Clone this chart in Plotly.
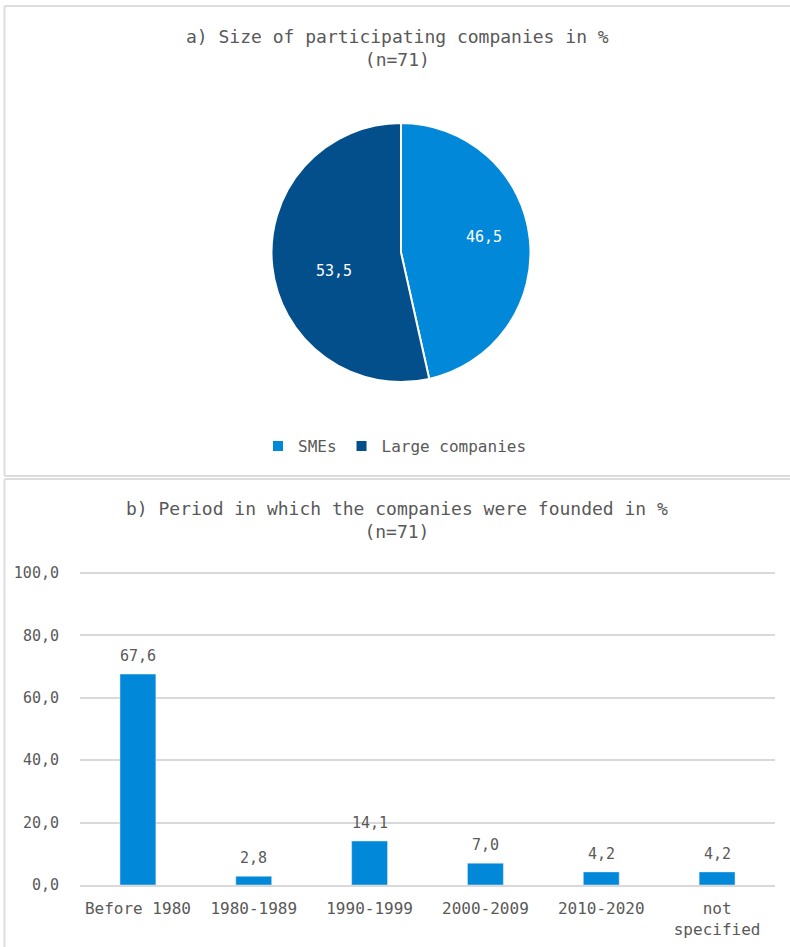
import math
import plotly.graph_objects as go

W, H = 790, 947

# ---- data ----
size_labels = ["SMEs", "Large companies"]
size_values = [46.5, 53.5]
size_colors = ["#0288D9", "#034F8B"]

period_categories = ["Before 1980", "1980-1989", "1990-1999", "2000-2009", "2010-2020", "not<br>specified"]
period_values = [67.6, 2.8, 14.1, 7.0, 4.2, 4.2]
bar_color = "#0288D9"

title_a = "a) Size of participating companies in %<br>(n=71)"
title_b = "b) Period in which the companies were founded in %<br>(n=71)"

FONT = "DejaVu Sans Mono, monospace"
GREY = "#595959"
BORDER = "#DDDDDD"

def px(x):
    return x / W

def py(y):
    return 1 - y / H

def fmt(v):
    return f"{v:.1f}".replace(".", ",")

# pie geometry (pixels)
CX, CY, R = 401, 252.5, 129.5
label_radius = [0.65, 0.54]      # fraction of radius for value labels
label_angle_shift = [-4, -9]     # degrees, label placement nudge

fig = go.Figure()

fig.add_trace(go.Pie(
    labels=size_labels,
    values=size_values,
    sort=False,
    direction="clockwise",
    rotation=0,
    marker=dict(colors=size_colors, line=dict(color="white", width=2)),
    textinfo="none",
    hoverinfo="label+value",
    domain=dict(x=[px(CX - R), px(CX + R)], y=[py(CY + R), py(CY - R)]),
    showlegend=True,
))

annotations = []
total = sum(size_values)
cum = 0.0
for v, rf, da in zip(size_values, label_radius, label_angle_shift):
    mid = (cum + v / 2) / total * 360 + da
    cum += v
    a = math.radians(mid)
    lx = CX + rf * R * math.sin(a)
    ly = CY - rf * R * math.cos(a)
    annotations.append(dict(
        text=fmt(v), x=px(lx), y=py(ly),
        xref="paper", yref="paper", showarrow=False,
        xanchor="center", yanchor="middle",
        font=dict(color="white", size=15, family=FONT)))

fig.add_trace(go.Bar(
    x=period_categories,
    y=period_values,
    marker=dict(color=bar_color),
    showlegend=False,
    width=0.31,
    hoverinfo="x+y",
    xaxis="x", yaxis="y",
))

# bar value labels
for c, v in zip(period_categories, period_values):
    annotations.append(dict(
        text=fmt(v), x=c, y=v, xref="x", yref="y",
        xanchor="center", yanchor="bottom", yshift=7, showarrow=False,
        font=dict(color=GREY, size=15, family=FONT)))

Y0, Y100 = 885, 573
ppu = (Y0 - Y100) / 100.0
YMAX = 101

annotations += [
    dict(text=title_a, x=px(397), y=py(48), xref="paper", yref="paper",
         xanchor="center", yanchor="middle", showarrow=False,
         font=dict(size=18, color=GREY, family=FONT)),
    dict(text=title_b, x=px(397), y=py(519.5), xref="paper", yref="paper",
         xanchor="center", yanchor="middle", showarrow=False,
         font=dict(size=18, color=GREY, family=FONT)),
]

fig.update_layout(
    width=W, height=H,
    margin=dict(l=0, r=0, t=0, b=0, autoexpand=False),
    paper_bgcolor="white",
    plot_bgcolor="white",
    separators=",.",
    font=dict(family=FONT, color=GREY, size=15),
    xaxis=dict(
        domain=[px(80), px(775)],
        anchor="y",
        automargin=False,
        showgrid=False,
        showline=True,
        linecolor="#D9D9D9",
        linewidth=1.5,
        ticks="outside",
        ticklen=8,
        tickcolor="rgba(0,0,0,0)",
        tickfont=dict(size=16, color=GREY, family=FONT),
    ),
    yaxis=dict(
        domain=[py(Y0), py(Y0 - YMAX * ppu)],
        anchor="x",
        automargin=False,
        range=[0, YMAX],
        tickvals=[0, 20, 40, 60, 80, 100],
        tickformat=".1f",
        showgrid=True,
        gridcolor="#D9D9D9",
        gridwidth=1.5,
        zeroline=False,
        showline=False,
        ticks="outside",
        ticklen=17,
        tickcolor="rgba(0,0,0,0)",
        tickfont=dict(size=15, color=GREY, family=FONT),
    ),
    legend=dict(
        orientation="h",
        x=0.5, xanchor="center",
        y=py(446), yanchor="middle",
        font=dict(size=16, color=GREY, family=FONT),
    ),
    annotations=annotations,
    shapes=[
        # top panel
        dict(type="line", xref="paper", yref="paper", x0=px(4.5), x1=px(800), y0=py(6), y1=py(6),
             line=dict(color=BORDER, width=2)),
        dict(type="line", xref="paper", yref="paper", x0=px(4.5), x1=px(4.5), y0=py(6), y1=py(476),
             line=dict(color=BORDER, width=2)),
        dict(type="line", xref="paper", yref="paper", x0=px(4.5), x1=px(800), y0=py(476), y1=py(476),
             line=dict(color=BORDER, width=2)),
        # bottom panel
        dict(type="line", xref="paper", yref="paper", x0=px(4.5), x1=px(800), y0=py(479), y1=py(479),
             line=dict(color=BORDER, width=2)),
        dict(type="line", xref="paper", yref="paper", x0=px(4.5), x1=px(4.5), y0=py(479), y1=py(960),
             line=dict(color=BORDER, width=2)),
    ],
)

fig.write_html("out.html")
